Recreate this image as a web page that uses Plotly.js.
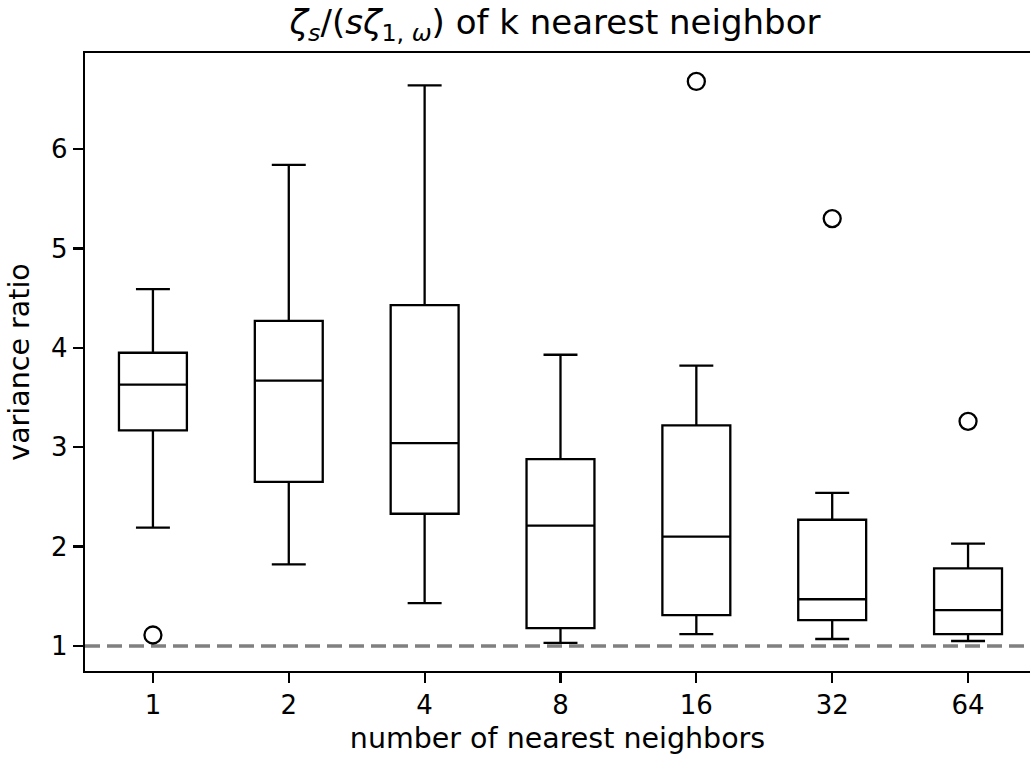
<!DOCTYPE html>
<html>
<head>
<meta charset="utf-8">
<script src="https://cdn.plot.ly/plotly-3.0.1.min.js"></script>
<style>html,body{margin:0;padding:0;background:#fff;}#chart{width:1030px;height:759px;}</style>
</head>
<body>
<div id="chart"></div>
<script>
const categories = ["1", "2", "4", "8", "16", "32", "64"];
const lowerWhisker = [2.19, 1.82, 1.43, 1.03, 1.12, 1.07, 1.05];
const q1Values = [3.17, 2.65, 2.33, 1.18, 1.31, 1.26, 1.12];
const medianValues = [3.63, 3.67, 3.04, 2.21, 2.10, 1.47, 1.36];
const q3Values = [3.95, 4.27, 4.43, 2.88, 3.22, 2.27, 1.78];
const upperWhisker = [4.59, 5.84, 6.64, 3.93, 3.82, 2.54, 2.03];
const outlierX = ["1", "16", "32", "64"];
const outlierY = [1.11, 6.68, 5.30, 3.26];
const yTickValues = [1, 2, 3, 4, 5, 6];
const yTickLabels = ["1", "2", "3", "4", "5", "6"];
const referenceLevel = 1;

const font = "DejaVu Sans, Verdana, sans-serif";

const traces = [
  {
    type: "box",
    x: categories,
    q1: q1Values,
    median: medianValues,
    q3: q3Values,
    lowerfence: lowerWhisker,
    upperfence: upperWhisker,
    boxpoints: false,
    width: 0.5,
    whiskerwidth: 0.5,
    line: {color: "#000000", width: 2.3},
    fillcolor: "rgba(0,0,0,0)",
    showlegend: false,
    hoverinfo: "skip"
  },
  {
    type: "scatter",
    mode: "markers",
    x: outlierX,
    y: outlierY,
    marker: {symbol: "circle-open", size: 17, color: "#000000", line: {width: 2.3, color: "#000000"}},
    showlegend: false,
    hoverinfo: "skip"
  }
];

const layout = {
  width: 1030,
  height: 759,
  margin: {l: 85, r: 0, t: 53, b: 88},
  paper_bgcolor: "#ffffff",
  plot_bgcolor: "#ffffff",
  font: {family: font, size: 26, color: "#000000"},
  title: {
    text: "<i>ζ</i><sub><i>s</i></sub>/(<i>sζ</i><sub>1, <i>ω</i></sub>) of k nearest neighbor",
    font: {family: font, size: 34, color: "#000000"},
    x: 555/1030, xanchor: "center",
    y: 1 - 22/759, yref: "container", yanchor: "middle"
  },
  xaxis: {
    type: "category",
    range: [-0.5, 6.456],
    showgrid: false,
    zeroline: false,
    showline: true,
    mirror: true,
    linecolor: "#000000",
    linewidth: 2.2,
    ticks: "outside",
    ticklen: 10,
    tickwidth: 2.2,
    tickcolor: "#000000",
    tickfont: {family: font, size: 26},
    title: {text: "number of nearest neighbors", font: {family: font, size: 28.5}, standoff: 9}
  },
  yaxis: {
    range: [0.748, 6.966],
    tickvals: yTickValues,
    ticktext: yTickLabels,
    showgrid: false,
    zeroline: false,
    showline: true,
    mirror: false,
    linecolor: "#000000",
    linewidth: 2.2,
    ticks: "outside",
    ticklen: 10,
    tickwidth: 2.2,
    tickcolor: "#000000",
    tickfont: {family: font, size: 26},
    title: {text: "variance ratio", font: {family: font, size: 28.5}, standoff: 13}
  },
  shapes: [
    {
      type: "line",
      xref: "paper", x0: 0, x1: 1,
      yref: "y", y0: referenceLevel, y1: referenceLevel,
      line: {color: "#808080", width: 3.5, dash: "15px,7px"},
      layer: "below"
    }
  ]
};

Plotly.newPlot("chart", traces, layout, {displayModeBar: false, staticPlot: true});
</script>
</body>
</html>
